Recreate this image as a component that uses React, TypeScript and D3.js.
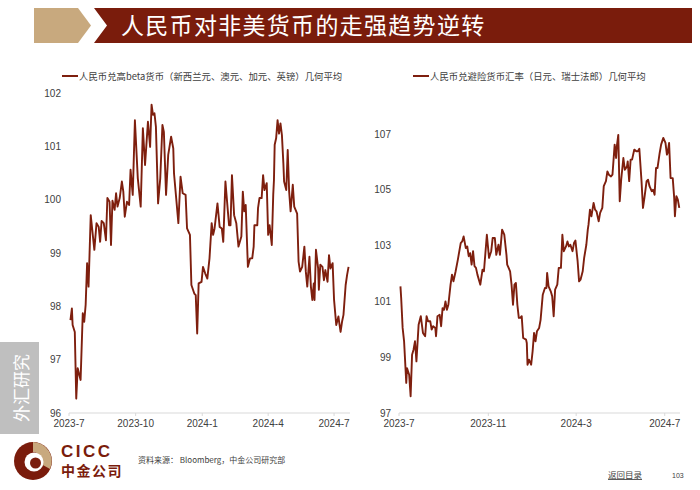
import React from "react";
import * as d3 from "d3";

// ---------- DATA ----------
const titleText = "人民币对非美货币的走强趋势逆转";
const leftLegend = "人民币兑高beta货币（新西兰元、澳元、加元、英镑）几何平均";
const rightLegend = "人民币兑避险货币汇率（日元、瑞士法郎）几何平均";
const sourceText = "资料来源： Bloomberg，中金公司研究部";

const leftYTicks = [96, 97, 98, 99, 100, 101, 102];
const leftXTicks = ["2023-07-01", "2023-10-01", "2024-01-01", "2024-04-01", "2024-07-01"];
const rightYTicks = [97, 99, 101, 103, 105, 107];
const rightXTicks = ["2023-07-01", "2023-11-01", "2024-03-01", "2024-07-01"];

const highBeta: [string, number][] = [
  ["2023-07-03", 97.74], ["2023-07-05", 97.96], ["2023-07-06", 97.65], ["2023-07-09", 97.52],
  ["2023-07-11", 96.27], ["2023-07-13", 96.84], ["2023-07-17", 96.62], ["2023-07-20", 97.87],
  ["2023-07-22", 97.71], ["2023-07-24", 98.03], ["2023-07-26", 98.81], ["2023-07-28", 98.37],
  ["2023-07-31", 99.71], ["2023-08-05", 99.06], ["2023-08-08", 99.56], ["2023-08-11", 99.49],
  ["2023-08-13", 99.21], ["2023-08-15", 99.6], ["2023-08-18", 99.56], ["2023-08-21", 99.24],
  ["2023-08-23", 100.03], ["2023-08-26", 99.96], ["2023-08-28", 99.15], ["2023-08-30", 99.98],
  ["2023-09-02", 99.81], ["2023-09-04", 100.12], ["2023-09-06", 99.87], ["2023-09-09", 100.03],
  ["2023-09-12", 100.34], ["2023-09-14", 100.15], ["2023-09-16", 99.68], ["2023-09-19", 99.96],
  ["2023-09-22", 99.9], ["2023-09-24", 100.56], ["2023-09-27", 100.09], ["2023-09-30", 101.49],
  ["2023-10-04", 100.4], ["2023-10-08", 99.87], ["2023-10-11", 101.34], ["2023-10-14", 100.65],
  ["2023-10-18", 101.46], ["2023-10-21", 100.99], ["2023-10-23", 101.78], ["2023-10-25", 101.59],
  ["2023-10-27", 101.62], ["2023-10-29", 101.37], ["2023-11-01", 99.93], ["2023-11-04", 100.4],
  ["2023-11-07", 101.4], ["2023-11-09", 101.27], ["2023-11-12", 100.09], ["2023-11-15", 100.84],
  ["2023-11-19", 101.18], ["2023-11-22", 100.96], ["2023-11-23", 100.49], ["2023-11-26", 100.03],
  ["2023-11-29", 99.56], ["2023-12-02", 100.43], ["2023-12-05", 100.12], ["2023-12-09", 100.09],
  ["2023-12-11", 99.46], ["2023-12-15", 99.34], ["2023-12-17", 98.4], ["2023-12-21", 98.24],
  ["2023-12-23", 98.21], ["2023-12-25", 97.49], ["2023-12-27", 98.43], ["2023-12-31", 98.46],
  ["2024-01-02", 98.74], ["2024-01-05", 98.62], ["2024-01-08", 98.52], ["2024-01-11", 98.9],
  ["2024-01-14", 99.56], ["2024-01-16", 99.34], ["2024-01-18", 99.46], ["2024-01-22", 99.93],
  ["2024-01-25", 99.49], ["2024-01-28", 99.46], ["2024-01-30", 99.21], ["2024-02-02", 100.34],
  ["2024-02-05", 99.84], ["2024-02-07", 99.52], ["2024-02-09", 99.52], ["2024-02-11", 100.46],
  ["2024-02-14", 99.71], ["2024-02-17", 99.56], ["2024-02-20", 99.12], ["2024-02-24", 99.31],
  ["2024-02-26", 100.15], ["2024-02-28", 99.78], ["2024-03-01", 99.9], ["2024-03-04", 98.74],
  ["2024-03-07", 98.9], ["2024-03-10", 98.9], ["2024-03-12", 99.12], ["2024-03-13", 99.52],
  ["2024-03-17", 99.52], ["2024-03-18", 99.84], ["2024-03-20", 100.03], ["2024-03-23", 100.03],
  ["2024-03-25", 100.46], ["2024-03-27", 100.18], ["2024-03-30", 100.31], ["2024-04-01", 99.34],
  ["2024-04-03", 99.52], ["2024-04-06", 99.15], ["2024-04-08", 100.09], ["2024-04-09", 100.37],
  ["2024-04-10", 101.03], ["2024-04-12", 101.15], ["2024-04-14", 101.49], ["2024-04-16", 101.24],
  ["2024-04-18", 101.43], ["2024-04-20", 101.21], ["2024-04-22", 100.68], ["2024-04-23", 100.34],
  ["2024-04-26", 100.18], ["2024-04-28", 100.93], ["2024-04-30", 100.15], ["2024-05-02", 99.78],
  ["2024-05-05", 100.28], ["2024-05-07", 99.87], ["2024-05-11", 99.74], ["2024-05-13", 98.84],
  ["2024-05-15", 98.65], ["2024-05-18", 98.74], ["2024-05-21", 99.12], ["2024-05-23", 98.65],
  ["2024-05-25", 98.37], ["2024-05-28", 98.93], ["2024-05-30", 98.37], ["2024-06-01", 98.12],
  ["2024-06-03", 98.43], ["2024-06-04", 98.12], ["2024-06-06", 99.06], ["2024-06-09", 98.71],
  ["2024-06-10", 98.31], ["2024-06-12", 98.78], ["2024-06-15", 98.74], ["2024-06-17", 98.49],
  ["2024-06-19", 98.68], ["2024-06-22", 98.46], ["2024-06-24", 98.96], ["2024-06-26", 98.71],
  ["2024-06-29", 98.81], ["2024-07-01", 98.12], ["2024-07-04", 97.65], ["2024-07-07", 97.81],
  ["2024-07-08", 97.71], ["2024-07-10", 97.52], ["2024-07-12", 97.71], ["2024-07-14", 97.84],
  ["2024-07-17", 98.4], ["2024-07-19", 98.59], ["2024-07-21", 98.74],
];

const safeHaven: [string, number][] = [
  ["2023-07-03", 101.54], ["2023-07-04", 101.12], ["2023-07-06", 100.05], ["2023-07-08", 99.57],
  ["2023-07-11", 98.08], ["2023-07-12", 98.61], ["2023-07-15", 98.37], ["2023-07-17", 97.6],
  ["2023-07-19", 99.09], ["2023-07-21", 99.27], ["2023-07-23", 99.57], ["2023-07-25", 98.85],
  ["2023-07-28", 100.16], ["2023-07-31", 100.47], ["2023-08-03", 99.87], ["2023-08-06", 99.75],
  ["2023-08-08", 100.47], ["2023-08-10", 100.29], ["2023-08-13", 100.29], ["2023-08-15", 99.99],
  ["2023-08-17", 100.11], ["2023-08-20", 100.05], ["2023-08-21", 99.75], ["2023-08-23", 100.47],
  ["2023-08-26", 100.52], ["2023-08-28", 100.11], ["2023-08-30", 100.76], ["2023-09-01", 100.7],
  ["2023-09-03", 101.0], ["2023-09-05", 100.7], ["2023-09-07", 100.88], ["2023-09-10", 101.6],
  ["2023-09-12", 101.96], ["2023-09-14", 101.72], ["2023-09-17", 102.08], ["2023-09-20", 102.49],
  ["2023-09-24", 103.09], ["2023-09-26", 103.15], ["2023-09-28", 103.33], ["2023-10-01", 102.91],
  ["2023-10-03", 102.97], ["2023-10-05", 102.62], ["2023-10-07", 102.73], ["2023-10-09", 102.32],
  ["2023-10-11", 102.8], ["2023-10-13", 102.26], ["2023-10-15", 102.2], ["2023-10-17", 101.96],
  ["2023-10-21", 101.6], ["2023-10-24", 102.14], ["2023-10-26", 102.08], ["2023-10-30", 103.39],
  ["2023-11-02", 102.56], ["2023-11-05", 102.8], ["2023-11-07", 103.27], ["2023-11-10", 103.27],
  ["2023-11-12", 102.67], ["2023-11-15", 103.03], ["2023-11-17", 102.67], ["2023-11-20", 103.57],
  ["2023-11-23", 103.39], ["2023-11-26", 102.67], ["2023-11-27", 102.32], ["2023-11-29", 102.2],
  ["2023-12-01", 102.08], ["2023-12-03", 101.6], ["2023-12-05", 100.88], ["2023-12-07", 101.6],
  ["2023-12-09", 101.66], ["2023-12-11", 100.88], ["2023-12-13", 100.41], ["2023-12-15", 100.41],
  ["2023-12-17", 100.47], ["2023-12-19", 99.69], ["2023-12-23", 99.63], ["2023-12-24", 99.51],
  ["2023-12-25", 98.73], ["2023-12-27", 98.91], ["2023-12-30", 98.73], ["2024-01-01", 99.21],
  ["2024-01-03", 99.87], ["2024-01-05", 99.57], ["2024-01-07", 99.93], ["2024-01-10", 100.05],
  ["2024-01-12", 100.34], ["2024-01-15", 101.24], ["2024-01-18", 101.48], ["2024-01-20", 101.48],
  ["2024-01-21", 102.02], ["2024-01-23", 101.54], ["2024-01-26", 101.36], ["2024-01-28", 101.18],
  ["2024-01-30", 100.47], ["2024-02-01", 101.42], ["2024-02-04", 101.6], ["2024-02-06", 102.2],
  ["2024-02-09", 102.2], ["2024-02-11", 103.39], ["2024-02-13", 102.8], ["2024-02-16", 102.97],
  ["2024-02-18", 103.15], ["2024-02-20", 102.97], ["2024-02-22", 103.03], ["2024-02-25", 102.8],
  ["2024-02-27", 103.09], ["2024-02-29", 103.18], ["2024-03-03", 102.44], ["2024-03-05", 101.72],
  ["2024-03-07", 101.78], ["2024-03-10", 102.08], ["2024-03-12", 102.56], ["2024-03-15", 103.03],
  ["2024-03-17", 103.57], ["2024-03-18", 103.75], ["2024-03-20", 104.29], ["2024-03-22", 104.05],
  ["2024-03-25", 104.53], ["2024-03-27", 104.29], ["2024-03-29", 104.23], ["2024-04-01", 103.87],
  ["2024-04-03", 104.17], ["2024-04-06", 104.35], ["2024-04-08", 105.13], ["2024-04-11", 105.31],
  ["2024-04-13", 105.66], ["2024-04-15", 105.54], ["2024-04-18", 105.48], ["2024-04-20", 105.54],
  ["2024-04-23", 106.62], ["2024-04-25", 106.14], ["2024-04-26", 106.56], ["2024-04-28", 106.97],
  ["2024-04-30", 104.59], ["2024-05-02", 105.36], ["2024-05-05", 106.14], ["2024-05-07", 105.72],
  ["2024-05-10", 105.84], ["2024-05-11", 106.02], ["2024-05-13", 105.31], ["2024-05-15", 106.08],
  ["2024-05-17", 106.08], ["2024-05-20", 106.44], ["2024-05-23", 106.38], ["2024-05-25", 106.38],
  ["2024-05-27", 106.47], ["2024-05-30", 105.31], ["2024-06-01", 104.35], ["2024-06-03", 104.71],
  ["2024-06-06", 105.31], ["2024-06-08", 105.36], ["2024-06-10", 105.13], ["2024-06-13", 104.95],
  ["2024-06-15", 105.0], ["2024-06-17", 104.82], ["2024-06-19", 105.78], ["2024-06-21", 105.78],
  ["2024-06-24", 106.32], ["2024-06-26", 106.62], ["2024-06-29", 106.86], ["2024-07-02", 106.68],
  ["2024-07-04", 106.26], ["2024-07-05", 106.32], ["2024-07-07", 106.68], ["2024-07-09", 105.42],
  ["2024-07-12", 105.42], ["2024-07-14", 104.71], ["2024-07-15", 104.05], ["2024-07-17", 104.77],
  ["2024-07-19", 104.65], ["2024-07-21", 104.35],
];

// ---------- STYLE ----------
const LINE = "#7E1F0E";
const MAROON = "#7A1C0C";
const GOLD = "#C8A97E";
const TXT = "#404040";
const LATIN = "'Liberation Sans', Arial, sans-serif";
const CJK = "'Noto Sans CJK SC', 'Noto Sans', sans-serif";

const parse = d3.timeParse("%Y-%m-%d");
const fmt = d3.timeFormat("%Y-%-m");

type PanelProps = {
  data: [string, number][];
  xRange: [number, number];
  xEnd: string;
  xTicks: string[];
  yDomain: [number, number];
  yTicks: number[];
  yRange: [number, number];
  labelX: number;
  legend: string;
  legendX: number;
};

function Panel(p: PanelProps) {
  const x = d3.scaleTime().domain([parse("2023-07-01")!, parse(p.xEnd)!]).range(p.xRange);
  const y = d3.scaleLinear().domain(p.yDomain).range(p.yRange);
  const line = d3
    .line<[string, number]>()
    .x((d) => x(parse(d[0])!))
    .y((d) => y(d[1]))
    .curve(d3.curveLinear);
  const base = y(p.yDomain[0]);
  return (
    <g>
      <line x1={p.legendX} x2={p.legendX + 16} y1={76} y2={76} stroke={LINE} strokeWidth={2} />
      <text x={p.legendX + 17} y={79.5} fontSize={9.4} fontFamily={CJK} fill={TXT}>
        {p.legend}
      </text>
      <line x1={p.xRange[0]} x2={p.xRange[1]} y1={base} y2={base} stroke="#D9D9D9" strokeWidth={1} />
      {p.xTicks.map((t) => (
        <g key={t}>
          <line x1={x(parse(t)!)} x2={x(parse(t)!)} y1={base} y2={base + 3} stroke="#D9D9D9" />
          <text x={x(parse(t)!)} y={base + 14} textAnchor="middle" fontSize={10} fontFamily={LATIN} fill={TXT}>
            {fmt(parse(t)!)}
          </text>
        </g>
      ))}
      {p.yTicks.map((t) => (
        <text key={t} x={p.labelX} y={y(t) + 3.5} textAnchor="end" fontSize={10} fontFamily={LATIN} fill={TXT}>
          {t}
        </text>
      ))}
      <path d={line(p.data) || ""} fill="none" stroke={LINE} strokeWidth={1.9} strokeLinejoin="round" />
    </g>
  );
}

export default function App() {
  return (
    <svg
      width={700}
      height={490}
      style={{ position: "absolute", left: 0, top: 0, background: "#fff" }}
      xmlns="http://www.w3.org/2000/svg"
    >
      <rect width={700} height={490} fill="#fff" />
      {/* header */}
      <polygon points="34,8 78,8 91,25.5 78,43 34,43" fill={GOLD} />
      <polygon points="94,8 692,8 692,43 94,43 107,25.5" fill={MAROON} />
      <text x={121} y={33.5} fontSize={23} fontFamily={CJK} fill="#fff" letterSpacing={1.3}>
        {titleText}
      </text>

      <Panel
        data={highBeta}
        xRange={[69, 350]}
        xEnd="2024-07-23"
        xTicks={leftXTicks}
        yDomain={[96, 102]}
        yTicks={leftYTicks}
        yRange={[413, 93]}
        labelX={61}
        legend={leftLegend}
        legendX={62}
      />
      <Panel
        data={safeHaven}
        xRange={[399, 680]}
        xEnd="2024-07-22"
        xTicks={rightXTicks}
        yDomain={[97, 107]}
        yTicks={rightYTicks}
        yRange={[413, 134]}
        labelX={391}
        legend={rightLegend}
        legendX={413}
      />

      {/* side tab */}
      <rect x={0} y={342} width={39} height={92} fill="#BFBFBF" />
      <text
        transform="translate(20,388) rotate(-90)"
        textAnchor="middle"
        dominantBaseline="central"
        fontSize={17}
        fontFamily={CJK}
        fill="#fff"
      >
        外汇研究
      </text>

      {/* logo */}
      <circle cx={33} cy={461} r={19} fill={MAROON} />
      <path d="M33,442 A19,19 0 0 1 50,469 L41,464 A9,9 0 0 0 33,452 Z" fill={GOLD} />
      <circle cx={34} cy={462} r={9.5} fill="#fff" />
      <circle cx={35.5} cy={463} r={5.5} fill={MAROON} />
      <text x={61} y={457} fontSize={17} fontWeight="bold" fontFamily={LATIN} fill={MAROON} letterSpacing={2.5}>
        CICC
      </text>
      <text x={61} y={476} fontSize={14} fontWeight="bold" fontFamily={CJK} fill={MAROON} letterSpacing={1.5}>
        中金公司
      </text>

      {/* footer */}
      <text x={138} y={463} fontSize={8} fontFamily={CJK} fill={TXT}>
        {sourceText}
      </text>
      <text x={608} y={478} fontSize={8.5} fontFamily={CJK} fill={TXT} textDecoration="underline">
        返回目录
      </text>
      <text x={672} y={478} fontSize={7} fontFamily={LATIN} fill={TXT}>
        103
      </text>
    </svg>
  );
}
